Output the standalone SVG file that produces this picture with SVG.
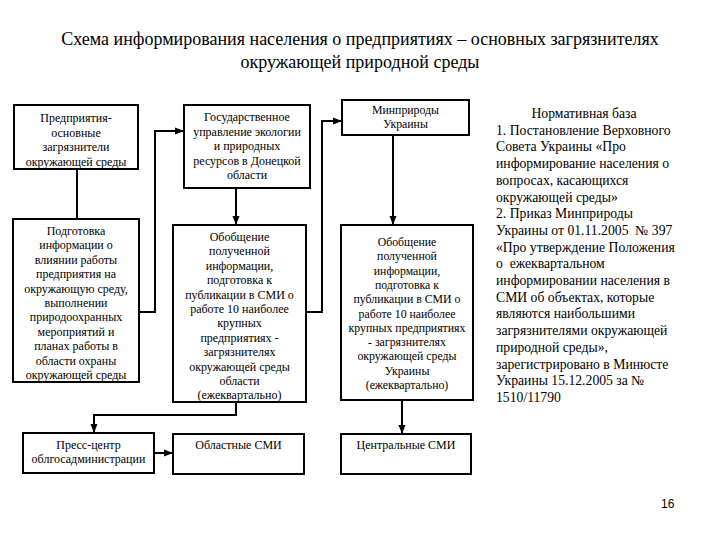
<svg xmlns="http://www.w3.org/2000/svg" width="720" height="540" viewBox="0 0 720 540">
<style>
.bg{fill:#fff}
.box{fill:#fff;stroke:#000;stroke-width:2}
.t{font-family:"Liberation Serif","Times New Roman",serif;fill:#000;text-anchor:middle;font-size:12px}
.ts{font-size:11.8px}
.title{font-family:"Liberation Serif","Times New Roman",serif;font-size:18px;text-anchor:middle;fill:#000}
.side{font-family:"Liberation Serif","Times New Roman",serif;font-size:13.7px;fill:#000;white-space:pre}
.conn{fill:none;stroke:#000;stroke-width:2}
.pg{font-family:"Liberation Sans",Arial,sans-serif;font-size:12px;fill:#000}
</style>
<defs>
<marker id="arr" markerUnits="userSpaceOnUse" markerWidth="10" markerHeight="10" refX="9" refY="5" orient="auto">
<path d="M0,1.5 L9,5 L0,8.5 Z" fill="#000"/>
</marker>
</defs>
<rect class="bg" x="0" y="0" width="720" height="540"/>
<g id="title">
<text class="title" x="360" y="45">Схема информирования населения о предприятиях – основных загрязнителях</text>
<text class="title" x="360" y="68">окружающей природной среды</text>
</g>
<g id="connectors">
<path class="conn" d="M77,169 V219"/>
<path class="conn" d="M139,312 H155 V131 H184" marker-end="url(#arr)"/>
<path class="conn" d="M236,188 V225" marker-end="url(#arr)"/>
<path class="conn" d="M306,312 H322 V121 H342" marker-end="url(#arr)"/>
<path class="conn" d="M393,135 V225" marker-end="url(#arr)"/>
<path class="conn" d="M236,402 V415 H94 V433" marker-end="url(#arr)"/>
<path class="conn" d="M154,453 H173" marker-end="url(#arr)"/>
<path class="conn" d="M402,400 V434" marker-end="url(#arr)"/>
</g>
<g id="n1">
<rect class="box" x="14" y="105" width="124" height="64"/>
<text class="t" x="76" y="122">Предприятия-</text>
<text class="t" x="76" y="136.5">основные</text>
<text class="t" x="76" y="151">загрязнители</text>
<text class="t" x="76" y="165.5">окружающей среды</text>
</g>
<g id="n2">
<rect class="box" x="184" y="105" width="126" height="83"/>
<text class="t" x="247" y="121">Государственное</text>
<text class="t" x="247" y="135.5">управление экологии</text>
<text class="t" x="247" y="150">и природных</text>
<text class="t" x="247" y="164.5">ресурсов в Донецкой</text>
<text class="t" x="247" y="179">области</text>
</g>
<g id="n3">
<rect class="box" x="342" y="100" width="127" height="35"/>
<text class="t ts" x="405.5" y="114">Минприроды</text>
<text class="t ts" x="405.5" y="128">Украины</text>
</g>
<g id="n4">
<rect class="box" x="13" y="219" width="126" height="163"/>
<text class="t" x="76" y="235">Подготовка</text>
<text class="t" x="76" y="249.4">информации о</text>
<text class="t" x="76" y="263.8">влиянии работы</text>
<text class="t" x="76" y="278.2">предприятия на</text>
<text class="t" x="76" y="292.6">окружающую среду,</text>
<text class="t" x="76" y="307">выполнении</text>
<text class="t" x="76" y="321.4">природоохранных</text>
<text class="t" x="76" y="335.8">мероприятий и</text>
<text class="t" x="76" y="350.2">планах работы в</text>
<text class="t" x="76" y="364.6">области охраны</text>
<text class="t" x="76" y="379">окружающей среды</text>
</g>
<g id="n5">
<rect class="box" x="173" y="225" width="133" height="177"/>
<text class="t" x="239.5" y="241">Обобщение</text>
<text class="t" x="239.5" y="255.4">полученной</text>
<text class="t" x="239.5" y="269.8">информации,</text>
<text class="t" x="239.5" y="284.2">подготовка к</text>
<text class="t" x="239.5" y="298.6">публикации в СМИ о</text>
<text class="t" x="239.5" y="313">работе 10 наиболее</text>
<text class="t" x="239.5" y="327.4">крупных</text>
<text class="t" x="239.5" y="341.8">предприятиях -</text>
<text class="t" x="239.5" y="356.2">загрязнителях</text>
<text class="t" x="239.5" y="370.6">окружающей среды</text>
<text class="t" x="239.5" y="385">области</text>
<text class="t" x="239.5" y="399.4">(ежеквартально)</text>
</g>
<g id="n6">
<rect class="box" x="341" y="225" width="132" height="175"/>
<text class="t ts" x="407" y="246">Обобщение</text>
<text class="t ts" x="407" y="260.3">полученной</text>
<text class="t ts" x="407" y="274.6">информации,</text>
<text class="t ts" x="407" y="288.9">подготовка к</text>
<text class="t ts" x="407" y="303.2">публикации в СМИ о</text>
<text class="t ts" x="407" y="317.5">работе 10 наиболее</text>
<text class="t ts" x="407" y="331.8">крупных предприятиях</text>
<text class="t ts" x="407" y="346.1">- загрязнителях</text>
<text class="t ts" x="407" y="360.4">окружающей среды</text>
<text class="t ts" x="407" y="374.7">Украины</text>
<text class="t ts" x="407" y="389">(ежеквартально)</text>
</g>
<g id="n7">
<rect class="box" x="23" y="433" width="131" height="40"/>
<text class="t" x="88.5" y="449">Пресс-центр</text>
<text class="t" x="88.5" y="463">облгосадминистрации</text>
</g>
<g id="n8">
<rect class="box" x="173" y="434" width="131" height="40"/>
<text class="t" x="238.5" y="449">Областные СМИ</text>
</g>
<g id="n9">
<rect class="box" x="341" y="434" width="130" height="40"/>
<text class="t" x="406" y="449">Центральные СМИ</text>
</g>
<g id="basis">
<text class="side" x="584" y="118" text-anchor="middle">Нормативная база</text>
<text class="side" x="496" y="134.7">1. Постановление Верховного</text>
<text class="side" x="496" y="151.4">Совета Украины «Про</text>
<text class="side" x="496" y="168.1">информирование населения о</text>
<text class="side" x="496" y="184.8">вопросах, касающихся</text>
<text class="side" x="496" y="201.5">окружающей среды»</text>
<text class="side" x="496" y="218.2">2. Приказ Минприроды</text>
<text class="side" x="496" y="234.9">Украины от 01.11.2005  № 397</text>
<text class="side" x="496" y="251.6">«Про утверждение Положения</text>
<text class="side" x="496" y="268.3">о  ежеквартальном</text>
<text class="side" x="496" y="285">информировании населения в</text>
<text class="side" x="496" y="301.7">СМИ об объектах, которые</text>
<text class="side" x="496" y="318.4">являются наибольшими</text>
<text class="side" x="496" y="335.1">загрязнителями окружающей</text>
<text class="side" x="496" y="351.8">природной среды»,</text>
<text class="side" x="496" y="368.5">зарегистрировано в Минюсте</text>
<text class="side" x="496" y="385.2">Украины 15.12.2005 за №</text>
<text class="side" x="496" y="401.9">1510/11790</text>
</g>
<text class="pg" x="661" y="508">16</text>
</svg>
